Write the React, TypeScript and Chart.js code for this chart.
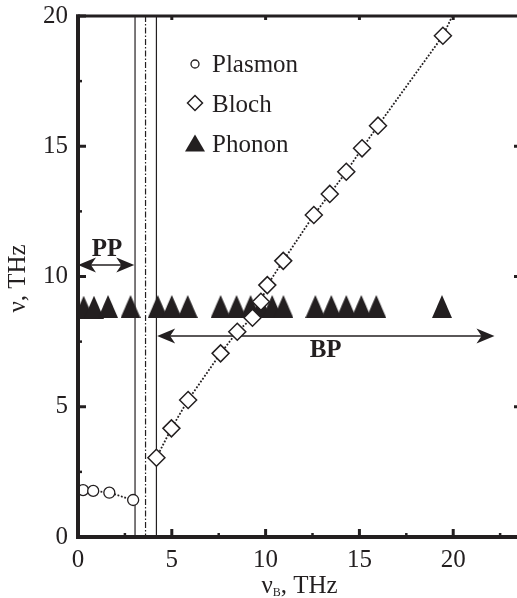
import React, { useEffect, useRef } from "react";
import { Chart, registerables } from "chart.js";
Chart.register(...registerables);

// ---- data ----
const plasmonX = [0.27, 0.81, 1.67, 2.94];
const plasmonY = [1.8, 1.77, 1.7, 1.42];
const blochX = [4.18, 4.98, 5.87, 7.6, 8.49, 9.3, 9.75, 10.09, 10.94, 12.57, 13.42, 14.3, 15.14, 15.99, 19.45];
const blochY = [3.04, 4.17, 5.26, 7.05, 7.88, 8.42, 9.03, 9.67, 10.6, 12.36, 13.17, 14.02, 14.92, 15.79, 19.24];
const blochLineEnd = [19.95, 20];
const phononX = [0.3, 0.85, 1.6, 2.8, 4.25, 5.0, 5.85, 7.6, 8.45, 9.2, 9.75, 10.35, 10.95, 12.65, 13.5, 14.3, 15.1, 15.9, 19.4];
const phononY = [8.82, 8.82, 8.85, 8.85, 8.85, 8.85, 8.85, 8.85, 8.85, 8.85, 8.85, 8.85, 8.85, 8.85, 8.85, 8.85, 8.85, 8.85, 8.85];
const seriesNames = ["Plasmon", "Bloch", "Phonon"];
const boundaryX = [3.04, 3.6, 4.18];
const ppArrow = [0, 3.0, 10.44];
const bpArrow = [4.22, 22.2, 7.72];
const ppLabel = ["PP", 1.55, 10.77];
const bpLabel = ["BP", 13.2, 6.92];
const xTitle = ["ν", "B", ", THz"];
const yTitle = "ν, THz";
const xMax = 23.4;
const yMax = 20;

const K = "#231f20";
const FONT = "'Liberation Serif', 'Times New Roman', 'DejaVu Serif', serif";

function triangleCanvas(w: number, h: number) {
  const c = document.createElement("canvas");
  c.width = w;
  c.height = h;
  const g = c.getContext("2d")!;
  g.fillStyle = K;
  g.beginPath();
  g.moveTo(w / 2, 0);
  g.lineTo(w, h);
  g.lineTo(0, h);
  g.closePath();
  g.fill();
  return c;
}

function arrowHead(ctx: CanvasRenderingContext2D, tx: number, ty: number, dir: number) {
  const L = 18, W = 7.5;
  ctx.beginPath();
  ctx.moveTo(tx, ty);
  ctx.lineTo(tx - dir * L, ty - W);
  ctx.lineTo(tx - dir * L * 0.72, ty);
  ctx.lineTo(tx - dir * L, ty + W);
  ctx.closePath();
  ctx.fill();
}

const decor = {
  id: "decor",
  beforeDatasetsDraw(chart: any) {
    const { ctx, chartArea: a, scales } = chart;
    const x = scales.x, y = scales.y;
    ctx.save();
    ctx.strokeStyle = K;
    ctx.fillStyle = K;
    ctx.lineWidth = 1.2;
    boundaryX.forEach((v, i) => {
      const px = x.getPixelForValue(v);
      ctx.setLineDash(i === 1 ? [6, 2, 1.5, 2] : []);
      ctx.beginPath();
      ctx.moveTo(px, a.top);
      ctx.lineTo(px, a.bottom);
      ctx.stroke();
    });
    ctx.setLineDash([]);
    ctx.lineWidth = 1.5;
    for (const ar of [ppArrow, bpArrow]) {
      const x0 = x.getPixelForValue(ar[0]);
      const x1 = x.getPixelForValue(ar[1]);
      const py = y.getPixelForValue(ar[2]);
      ctx.beginPath();
      ctx.moveTo(x0 + 10, py);
      ctx.lineTo(x1 - 10, py);
      ctx.stroke();
      arrowHead(ctx, x0, py, -1);
      arrowHead(ctx, x1, py, 1);
    }
    ctx.restore();
  },
  afterDatasetsDraw(chart: any) {
    const { ctx, chartArea: a, scales } = chart;
    const x = scales.x, y = scales.y;
    ctx.save();
    ctx.fillStyle = K;
    ctx.strokeStyle = K;
    // region labels
    ctx.font = `bold 25px ${FONT}`;
    ctx.textAlign = "center";
    ctx.textBaseline = "alphabetic";
    for (const lb of [ppLabel, bpLabel]) {
      ctx.fillText(lb[0] as string, x.getPixelForValue(lb[1] as number), y.getPixelForValue(lb[2] as number));
    }
    // legend
    ctx.font = `25px ${FONT}`;
    ctx.textAlign = "left";
    const lx = 195;
    const rows = [64, 103, 143];
    ctx.lineWidth = 1.3;
    ctx.beginPath();
    ctx.arc(lx, rows[0], 4, 0, Math.PI * 2);
    ctx.stroke();
    ctx.lineWidth = 1.5;
    ctx.beginPath();
    ctx.moveTo(lx - 7.5, rows[1]);
    ctx.lineTo(lx, rows[1] - 7.5);
    ctx.lineTo(lx + 7.5, rows[1]);
    ctx.lineTo(lx, rows[1] + 7.5);
    ctx.closePath();
    ctx.stroke();
    ctx.beginPath();
    ctx.moveTo(lx, rows[2] - 8.5);
    ctx.lineTo(lx + 10, rows[2] + 8.5);
    ctx.lineTo(lx - 10, rows[2] + 8.5);
    ctx.closePath();
    ctx.fill();
    const base = [72, 112, 151.5];
    seriesNames.forEach((n, i) => ctx.fillText(n, 212, base[i]));
    // frame
    ctx.lineCap = "butt";
    ctx.lineWidth = 4;
    ctx.beginPath();
    ctx.moveTo(a.left, a.top - 1.5);
    ctx.lineTo(a.left, a.bottom + 2);
    ctx.moveTo(a.left - 2, a.bottom);
    ctx.lineTo(a.right + 6, a.bottom);
    ctx.stroke();
    ctx.lineWidth = 3;
    ctx.beginPath();
    ctx.moveTo(a.left - 2, a.top);
    ctx.lineTo(a.right + 6, a.top);
    ctx.moveTo(a.right + 3, a.top);
    ctx.lineTo(a.right + 3, a.bottom);
    ctx.stroke();
    // ticks
    for (let v = 0; v <= yMax + 0.01; v += 2.5) {
      const py = y.getPixelForValue(v);
      const major = Math.abs(v % 5) < 0.01;
      ctx.lineWidth = major ? 3 : 2.5;
      ctx.beginPath();
      ctx.moveTo(a.left, py);
      ctx.lineTo(a.left + (major ? 8 : 4), py);
      ctx.stroke();
      if (major && v > 0 && v < yMax) {
        ctx.beginPath();
        ctx.moveTo(a.right + 2, py);
        ctx.lineTo(a.right - 3, py);
        ctx.stroke();
      }
    }
    for (let v = 2.5; v < xMax; v += 2.5) {
      const px = x.getPixelForValue(v);
      const major = Math.abs(v % 5) < 0.01;
      ctx.lineWidth = major ? 3 : 2.5;
      ctx.beginPath();
      ctx.moveTo(px, a.bottom);
      ctx.lineTo(px, a.bottom - (major ? 8 : 4));
      ctx.stroke();
      if (major) {
        ctx.beginPath();
        ctx.moveTo(px, a.top);
        ctx.lineTo(px, a.top + 4);
        ctx.stroke();
      }
    }
    // axis titles
    ctx.font = `25px ${FONT}`;
    const w0 = ctx.measureText(xTitle[0]).width;
    ctx.font = `12px ${FONT}`;
    const w1 = ctx.measureText(xTitle[1]).width;
    ctx.font = `25px ${FONT}`;
    const w2 = ctx.measureText(xTitle[2]).width;
    let sx = (a.left + a.right) / 2 + 2 - (w0 + w1 + w2) / 2;
    const by = 592.5;
    ctx.textAlign = "left";
    ctx.fillText(xTitle[0], sx, by);
    sx += w0;
    ctx.font = `12px ${FONT}`;
    ctx.fillText(xTitle[1], sx, by + 3);
    sx += w1;
    ctx.font = `25px ${FONT}`;
    ctx.fillText(xTitle[2], sx, by);
    ctx.save();
    ctx.translate(25, (a.top + a.bottom) / 2 + 2);
    ctx.rotate(-Math.PI / 2);
    ctx.textAlign = "center";
    ctx.fillText(yTitle, 0, 0);
    ctx.restore();
    ctx.restore();
  },
};

export default function App() {
  const ref = useRef<HTMLCanvasElement>(null);
  useEffect(() => {
    let chart: any = null;
    let cancelled = false;
    const build = () => {
      if (cancelled || !ref.current) return;
      const tri = triangleCanvas(20, 23);
      const blochPts = blochX.map((v, i) => ({ x: v, y: blochY[i] }));
      blochPts.push({ x: blochLineEnd[0], y: blochLineEnd[1] });
      const lastIdx = blochPts.length - 1;
      chart = new Chart(ref.current, {
        type: "scatter",
        data: {
          datasets: [
            {
              label: seriesNames[2],
              data: phononX.map((v, i) => ({ x: v, y: phononY[i] })),
              pointStyle: tri as any,
              pointRadius: 11,
              showLine: false,
              order: 3,
            },
            {
              label: seriesNames[0],
              data: plasmonX.map((v, i) => ({ x: v, y: plasmonY[i] })),
              showLine: true,
              borderColor: K,
              borderWidth: 1.8,
              borderDash: [1.8, 1.7],
              pointStyle: "circle",
              pointRadius: 5.5,
              pointBorderWidth: 1.3,
              pointBorderColor: K,
              pointBackgroundColor: "#ffffff",
              order: 2,
            },
            {
              label: seriesNames[1],
              data: blochPts,
              showLine: true,
              borderColor: K,
              borderWidth: 1.8,
              borderDash: [1.8, 1.7],
              pointStyle: "rectRot",
              pointRadius: (c: any) => (c.dataIndex === lastIdx ? 0 : 8.5),
              pointBorderWidth: 1.5,
              pointBorderColor: K,
              pointBackgroundColor: "#ffffff",
              order: 1,
            },
          ],
        },
        options: {
          responsive: false,
          animation: false,
          devicePixelRatio: 1,
          layout: { autoPadding: false, padding: { top: 16, left: 0, right: 0, bottom: 0 } },
          plugins: { legend: { display: false }, tooltip: { enabled: false } },
          scales: {
            x: {
              type: "linear",
              min: 0,
              max: xMax,
              grid: { display: false, drawTicks: false },
              border: { display: false },
              ticks: {
                stepSize: 5,
                includeBounds: false,
                color: K,
                padding: 8,
                font: { family: FONT, size: 25 },
              },
              afterFit: (s: any) => {
                s.height = 61;
                s.paddingLeft = 0;
                s.paddingRight = 0;
                s.paddingTop = 0;
                s.paddingBottom = 0;
              },
            },
            y: {
              type: "linear",
              min: 0,
              max: yMax,
              grid: { display: false, drawTicks: false },
              border: { display: false },
              ticks: {
                stepSize: 5,
                color: K,
                padding: 10,
                font: { family: FONT, size: 25 },
              },
              afterFit: (s: any) => {
                s.width = 78;
                s.paddingLeft = 0;
                s.paddingRight = 0;
                s.paddingTop = 0;
                s.paddingBottom = 0;
              },
            },
          },
        },
        plugins: [decor],
      } as any);
    };
    const fonts: any = (document as any).fonts;
    if (fonts && fonts.load) {
      Promise.all([
        fonts.load(`25px "Liberation Serif"`),
        fonts.load(`bold 25px "Liberation Serif"`),
      ]).then(build, build);
    } else build();
    return () => {
      cancelled = true;
      if (chart) chart.destroy();
    };
  }, []);
  return (
    <div style={{ position: "fixed", left: 0, top: 0, width: 517, height: 598, background: "#fff" }}>
      <canvas ref={ref} width={517} height={598} style={{ display: "block" }} />
    </div>
  );
}
